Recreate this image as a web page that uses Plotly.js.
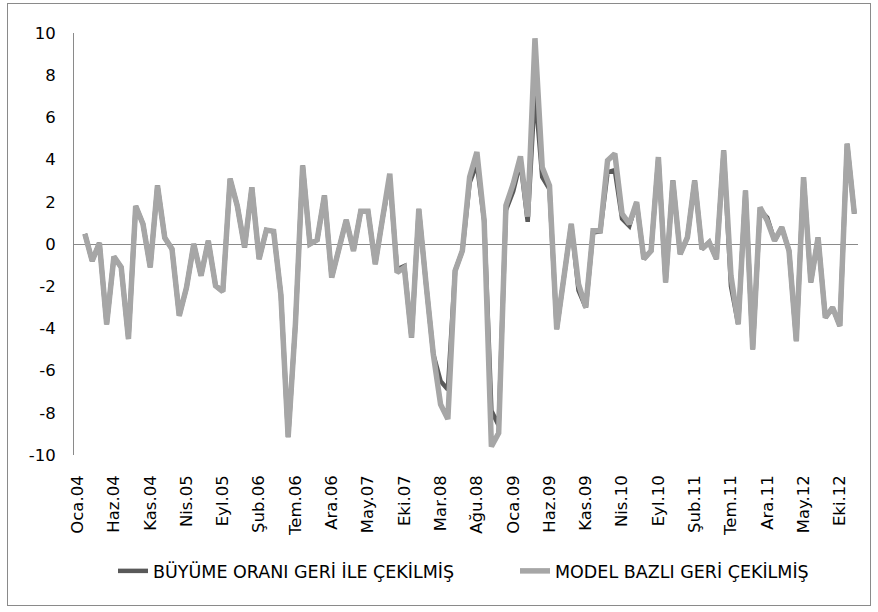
<!DOCTYPE html>
<html>
<head>
<meta charset="utf-8">
<script src="https://cdn.plot.ly/plotly-3.0.1.min.js"></script>
<style>
  html, body { margin: 0; padding: 0; background: #ffffff; }
  #wrap { position: relative; width: 878px; height: 612px; }
  #chart { position: absolute; left: 0; top: 0; width: 878px; height: 612px; }
  #frame { position: absolute; left: 7px; top: 3px; width: 864px; height: 603px;
           border: 1.5px solid #8a8a8a; pointer-events: none; box-sizing: border-box; }
</style>
</head>
<body>
<div id="wrap">
  <div id="chart"></div>
  <div id="frame"></div>
</div>
<script>
// Month abbreviations (Turkish) and years of the category axis
const monthNames = ['Oca', 'Şub', 'Mar', 'Nis', 'May', 'Haz', 'Tem', 'Ağu', 'Eyl', 'Eki', 'Kas', 'Ara'];
const yearNames = ['04', '05', '06', '07', '08', '09', '10', '11', '12'];
const categories = [];
yearNames.forEach(function (y) { monthNames.forEach(function (m) { categories.push(m + '.' + y); }); });

// Series name labels
const seriesGrowthName = 'BÜYÜME ORANI GERİ İLE ÇEKİLMİŞ';
const seriesModelName = 'MODEL BAZLI GERİ ÇEKİLMİŞ';

// Values from Şub.04 to Ara.12 (Oca.04 has no value)
const growthValues = [
  0.48, -0.8, 0.05, -3.8, -0.6, -1.1, -4.5, 1.8, 0.95, -1.1,
  2.77, 0.3, -0.24, -3.4, -2.06, 0.0, -1.5, 0.15, -1.98, -2.25,
  3.09, 1.8, -0.16, 2.69, -0.71, 0.66, 0.6, -2.4, -9.15, -3.8,
  3.72, 0.0, 0.2, 2.3, -1.59, -0.3, 1.14, -0.32, 1.55, 1.55,
  -0.95, 1.2, 3.1, -1.2, -1.05, -4.44, 1.66, -1.9, -5.23, -6.5,
  -6.9, -1.27, -0.32, 2.9, 3.8, 1.11, -7.9, -8.6, 1.6, 2.5,
  3.9, 1.05, 7.3, 3.17, 2.6, -4.04, -1.6, 0.95, -2.2, -3.01,
  0.55, 0.6, 3.4, 3.5, 1.2, 0.85, 1.98, -0.71, -0.32, 4.12,
  -1.82, 3.01, -0.48, 0.31, 3.01, -0.24, 0.08, -0.71, 4.44, -2.0,
  -3.8, 2.53, -4.99, 1.6, 1.25, 0.16, 0.79, -0.32, -4.6, 3.17,
  -1.82, 0.31, -3.49, -3.01, -3.88, 4.75, 1.43
];
const modelValues = [
  0.48, -0.8, 0.05, -3.8, -0.6, -1.1, -4.5, 1.8, 0.95, -1.1,
  2.77, 0.3, -0.24, -3.4, -2.06, 0.0, -1.5, 0.15, -1.98, -2.25,
  3.09, 1.8, -0.16, 2.69, -0.71, 0.66, 0.6, -2.4, -9.15, -3.8,
  3.72, 0.0, 0.2, 2.3, -1.59, -0.3, 1.14, -0.32, 1.55, 1.55,
  -0.95, 1.2, 3.33, -1.35, -1.11, -4.44, 1.66, -1.9, -5.23, -7.6,
  -8.3, -1.27, -0.32, 3.17, 4.36, 1.11, -9.6, -8.96, 1.82, 2.85,
  4.15, 1.3, 9.75, 3.64, 2.77, -4.04, -1.6, 0.95, -1.9, -3.01,
  0.63, 0.63, 3.96, 4.28, 1.43, 0.95, 1.98, -0.71, -0.32, 4.12,
  -1.82, 3.01, -0.48, 0.31, 3.01, -0.24, 0.08, -0.71, 4.44, -1.5,
  -3.8, 2.53, -4.99, 1.74, 1.1, 0.16, 0.79, -0.32, -4.6, 3.17,
  -1.82, 0.31, -3.49, -3.01, -3.88, 4.75, 1.43
];

// Y tick values and labels (hyphen minus as in the reference)
const yTickValues = [-10, -8, -6, -4, -2, 0, 2, 4, 6, 8, 10];
const yTickLabels = ['-10', '-8', '-6', '-4', '-2', '0', '2', '4', '6', '8', '10'];

const xData = categories.slice(1, 1 + growthValues.length);
const xTickVals = categories.filter(function (c, i) { return i % 5 === 0; });

const FONT = '"DejaVu Sans", sans-serif';

const traces = [
  { type: 'scatter', mode: 'lines', name: seriesGrowthName, x: xData, y: growthValues,
    line: { color: '#595959', width: 4.5 }, legend: 'legend' },
  { type: 'scatter', mode: 'lines', name: seriesModelName, x: xData, y: modelValues,
    line: { color: '#a6a6a6', width: 5.5 }, legend: 'legend2' }
];

const legendBase = {
  orientation: 'h', xref: 'container', yref: 'container',
  xanchor: 'left', yanchor: 'middle',
  font: { family: FONT, size: 17.5, color: '#000000' },
  bgcolor: 'rgba(0,0,0,0)', borderwidth: 0
};

const layout = {
  width: 878, height: 612,
  margin: { l: 74, r: 20, t: 33, b: 157 },
  paper_bgcolor: '#ffffff', plot_bgcolor: '#ffffff',
  font: { family: FONT, color: '#000000', size: 16 },
  showlegend: true,
  xaxis: {
    type: 'category', categoryorder: 'array', categoryarray: categories,
    range: [-0.5, categories.length - 0.5],
    tickmode: 'array', tickvals: xTickVals, ticktext: xTickVals,
    tickangle: -90, ticks: '', showgrid: false, zeroline: false, showline: false,
    tickfont: { family: FONT, size: 16.5, color: '#000000' },
    ticklabelstandoff: 16
  },
  yaxis: {
    range: [-10, 10], tickmode: 'array', tickvals: yTickValues, ticktext: yTickLabels,
    ticks: '', showgrid: false,
    showline: true, linecolor: '#8a8a8a', linewidth: 1,
    zeroline: true, zerolinecolor: '#8a8a8a', zerolinewidth: 1,
    tickfont: { family: FONT, size: 16.5, color: '#000000' },
    ticklabelstandoff: 14
  },
  legend: Object.assign({}, legendBase, { x: 113 / 878, y: 1 - 571 / 612 }),
  legend2: Object.assign({}, legendBase, { x: 515 / 878, y: 1 - 571 / 612 })
};

Plotly.newPlot('chart', traces, layout, { staticPlot: true, displayModeBar: false });
</script>
</body>
</html>
